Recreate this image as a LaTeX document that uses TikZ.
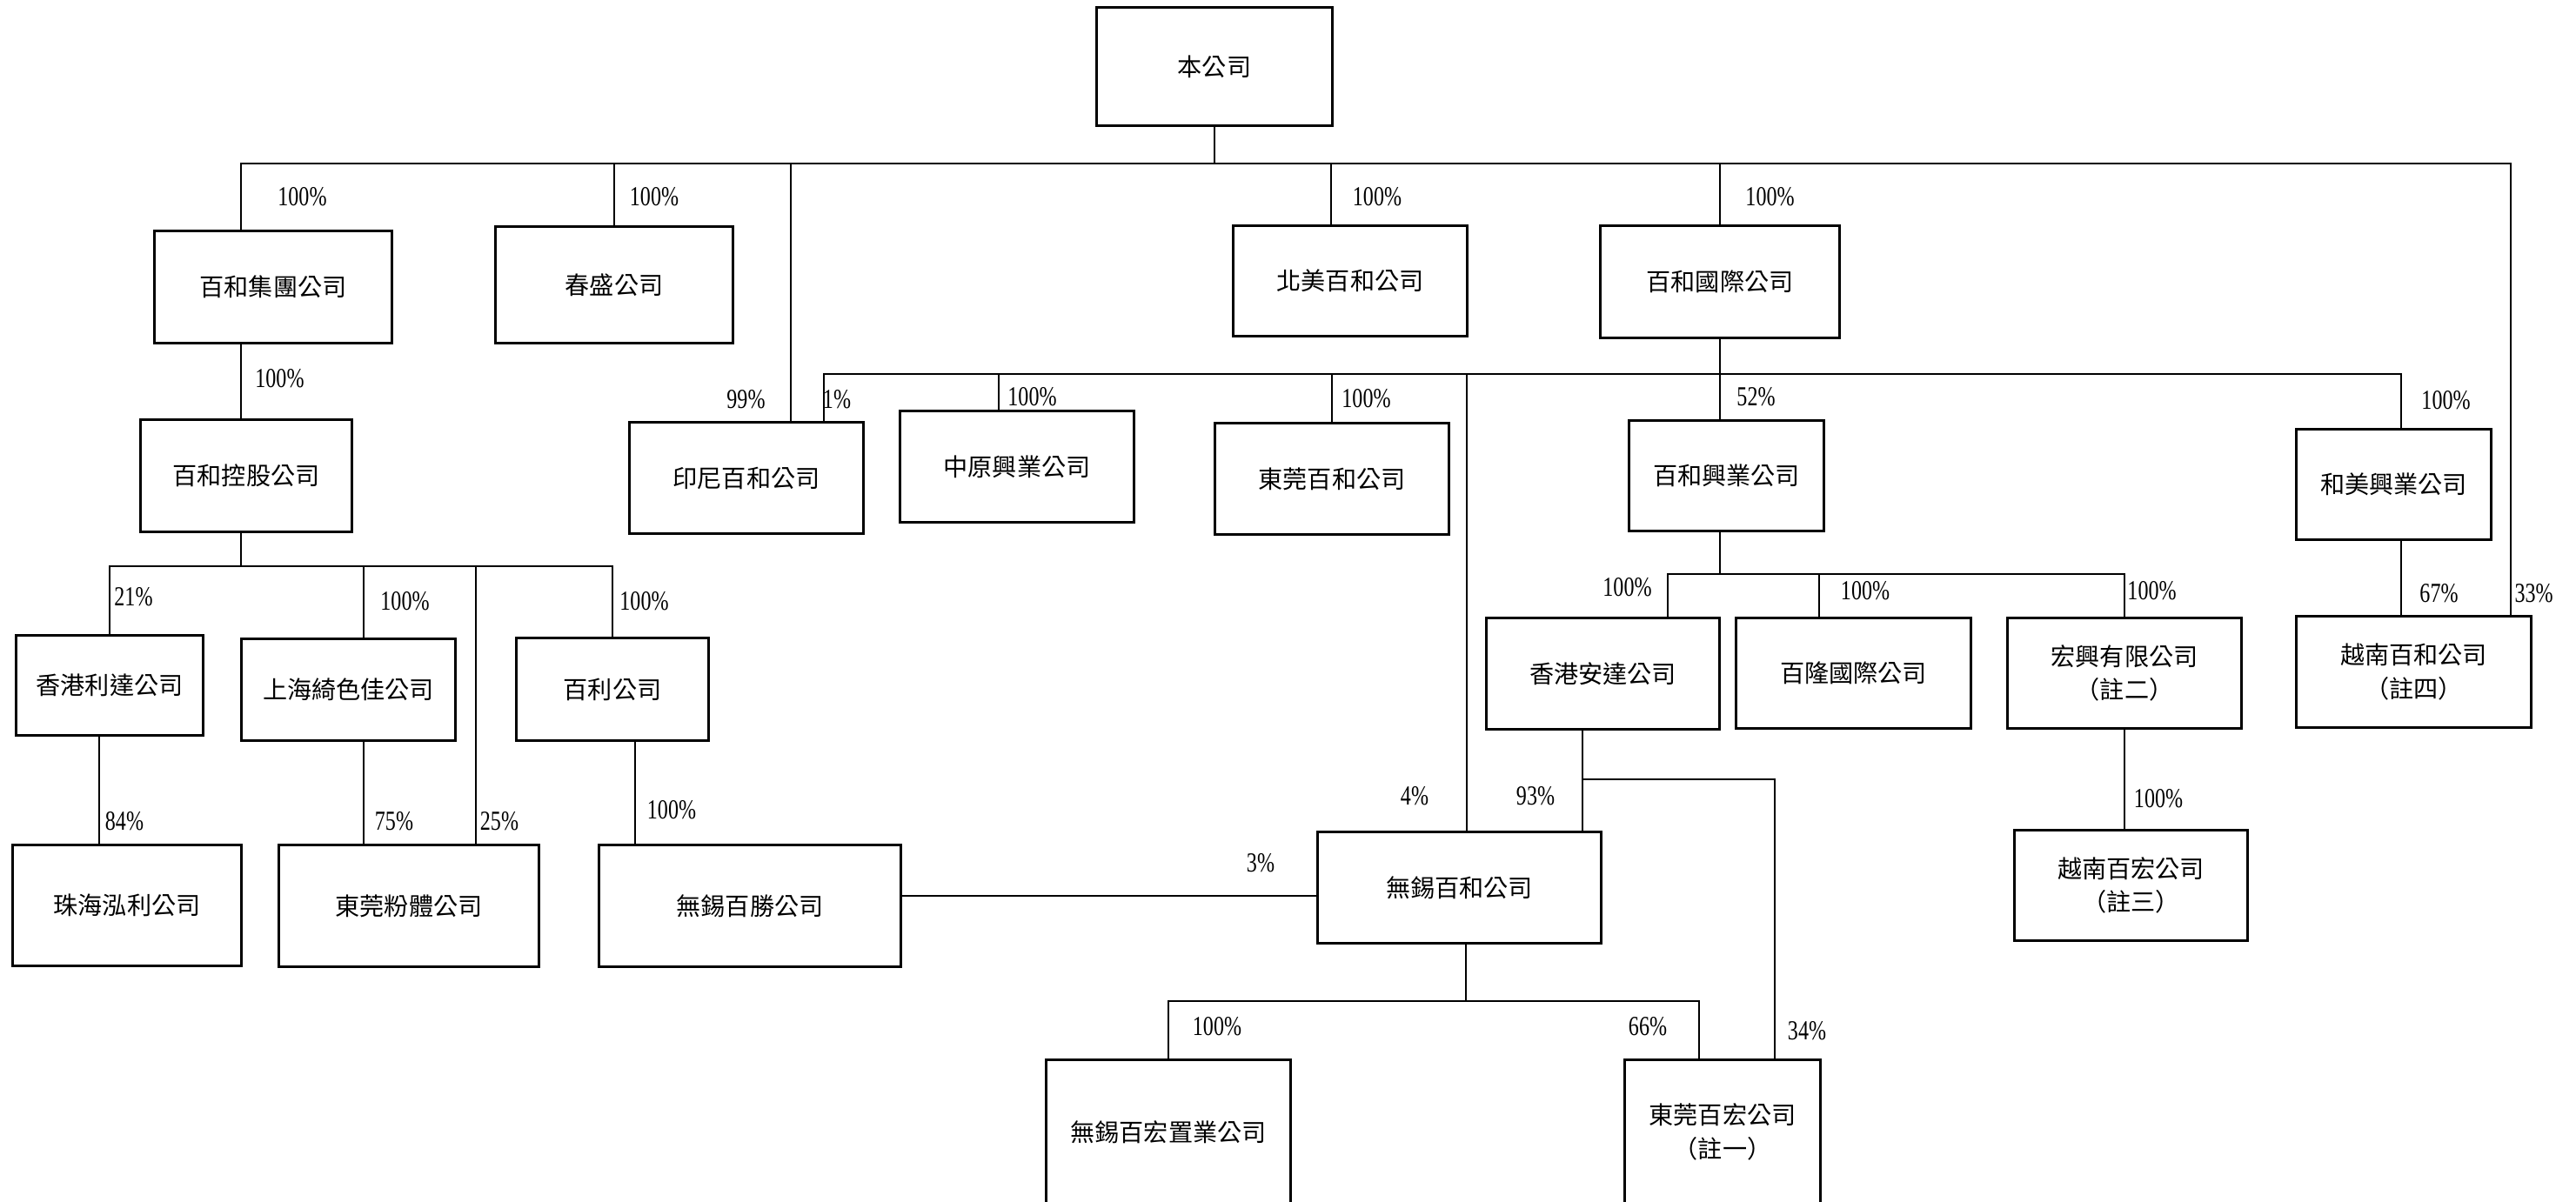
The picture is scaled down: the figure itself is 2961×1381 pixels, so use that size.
\documentclass[tikz,border=0pt]{standalone}
\usepackage{fontspec}
\usepackage{tikz}
\newfontfamily\cjk{Noto Sans CJK TC}
\newfontfamily\pctfont[FakeStretch=0.76]{Liberation Serif}

\tikzset{
  box/.style={draw, line width=0.85pt, inner sep=0pt, outer sep=0pt, align=center,
    font=\cjk\fontsize{8}{11}\selectfont},
  pct/.style={inner sep=0pt, font=\pctfont\fontsize{9}{10}\selectfont},
  link/.style={line width=0.55pt},
}

\begin{document}
\begin{tikzpicture}[x=0.01cm, y=-0.01cm]
\useasboundingbox (0,0) rectangle (2961,1381);

% companies
\node[box, minimum width=2.70cm, minimum height=1.35cm] (top) at (1396,76.5) {本公司};
\node[box, minimum width=2.72cm, minimum height=1.28cm] (jituan) at (314,330) {百和集團公司};
\node[box, minimum width=2.72cm, minimum height=1.33cm] (chunsheng) at (706,327.5) {春盛公司};
\node[box, minimum width=2.68cm, minimum height=1.26cm] (beimei) at (1552,323) {北美百和公司};
\node[box, minimum width=2.74cm, minimum height=1.28cm] (guoji) at (1977,324) {百和國際公司};
\node[box, minimum width=2.42cm, minimum height=1.28cm] (konggu) at (283,547) {百和控股公司};
\node[box, minimum width=2.68cm, minimum height=1.27cm] (yinni) at (858,549.5) {印尼百和公司};
\node[box, minimum width=2.68cm, minimum height=1.27cm] (zhongyuan) at (1169,536.5) {中原興業公司};
\node[box, minimum width=2.68cm, minimum height=1.27cm] (dongguan) at (1531,550.5) {東莞百和公司};
\node[box, minimum width=2.23cm, minimum height=1.26cm] (xingye) at (1984.5,547) {百和興業公司};
\node[box, minimum width=2.23cm, minimum height=1.26cm] (hemei) at (2751.5,557) {和美興業公司};
\node[box, minimum width=2.14cm, minimum height=1.14cm] (lida) at (126,788) {香港利達公司};
\node[box, minimum width=2.45cm, minimum height=1.16cm] (qisejia) at (400.5,793) {上海綺色佳公司};
\node[box, minimum width=2.20cm, minimum height=1.17cm] (baili) at (704,792.5) {百利公司};
\node[box, minimum width=2.67cm, minimum height=1.27cm] (anda) at (1842.5,774.5) {香港安達公司};
\node[box, minimum width=2.69cm, minimum height=1.26cm] (bailong) at (2130.5,774) {百隆國際公司};
\node[box, minimum width=2.68cm, minimum height=1.26cm] (hongxing) at (2442,774) {宏興有限公司\\（註二）};
\node[box, minimum width=2.69cm, minimum height=1.27cm] (vnbaihe) at (2774.5,772.5) {越南百和公司\\（註四）};
\node[box, minimum width=2.62cm, minimum height=1.38cm] (zhuhai) at (146,1041) {珠海泓利公司};
\node[box, minimum width=2.98cm, minimum height=1.39cm] (fenti) at (470,1041.5) {東莞粉體公司};
\node[box, minimum width=3.46cm, minimum height=1.39cm] (baisheng) at (862,1041.5) {無錫百勝公司};
\node[box, minimum width=3.25cm, minimum height=1.27cm] (wuxi) at (1677.5,1020.5) {無錫百和公司};
\node[box, minimum width=2.67cm, minimum height=1.26cm] (vnbaihong) at (2449.5,1018) {越南百宏公司\\（註三）};
\node[box, minimum width=2.80cm, minimum height=1.65cm] (zhiye) at (1343,1301.5) {無錫百宏置業公司};
\node[box, minimum width=2.24cm, minimum height=1.65cm] (dgbaihong) at (1980,1301.5) {東莞百宏公司\\（註一）};

% attach points
\coordinate (busA) at (1396,188);
\coordinate (busB) at (1977,430);
\coordinate (busC) at (277,651);
\coordinate (busD) at (1685,1151);
\coordinate (busE) at (1977,660);
\coordinate (jt) at (277,266);
\coordinate (bm) at (1530,260);
\coordinate (yn99) at (909,486);
\coordinate (yn1) at (947,486);
\coordinate (zy) at (1148,473);
\coordinate (hm) at (2760,494);
\coordinate (vn33) at (2886,709);
\coordinate (wx4) at (1686,957);
\coordinate (qs) at (418,735);
\coordinate (ft25) at (547,972);
\coordinate (zh) at (114,972);
\coordinate (bs) at (730,972);
\coordinate (w3) at (1515,1030);
\coordinate (ad) at (1917,711);
\coordinate (bl) at (2091,711);
\coordinate (ad93) at (1819,957);
\coordinate (ab) at (1819,896);
\coordinate (dh34) at (2040,1219);
\coordinate (dh66) at (1953,1219);

% first level
\draw[link] (top.south) -- (busA);
\draw[link] (jt) |- (vn33 |- busA) -- (vn33);
\draw[link] (chunsheng.north) -- (chunsheng.north |- busA);
\draw[link] (yn99) -- (yn99 |- busA);
\draw[link] (bm) -- (bm |- busA);
\draw[link] (guoji.north) -- (guoji.north |- busA);

% 百和國際
\draw[link] (guoji.south) -- (guoji.south |- xingye.north);
\draw[link] (yn1) -- (yn1 |- busB) -| (hm);
\draw[link] (zy) -- (zy |- busB);
\draw[link] (dongguan.north) -- (dongguan.north |- busB);
\draw[link] (wx4) -- (wx4 |- busB);
\draw[link] (hm |- hemei.south) -- (hm |- vnbaihe.north);

% 百和集團
\draw[link] (jt |- jituan.south) -- (jt |- konggu.north);
\draw[link] (konggu.south -| busC) -- (busC);
\draw[link] (lida.north) |- (busC) -| (baili.north);
\draw[link] (qs) -- (qs |- busC);
\draw[link] (ft25) -- (ft25 |- busC);
\draw[link] (zh |- lida.south) -- (zh);
\draw[link] (qs |- qisejia.south) -- (qs |- fenti.north);
\draw[link] (bs |- baili.south) -- (bs);
\draw[link] (w3 -| baisheng.east) -- (w3);

% 百和興業
\draw[link] (xingye.south -| busE) -- (busE);
\draw[link] (ad) |- (busE) -| (hongxing.north);
\draw[link] (bl) -- (bl |- busE);
\draw[link] (hongxing.south) -- (hongxing.south |- vnbaihong.north);
\draw[link] (ad93 |- anda.south) -- (ad93);
\draw[link] (ab) -| (dh34);

% 無錫百和
\draw[link] (wuxi.south -| busD) -- (busD);
\draw[link] (zhiye.north) |- (busD) -| (dh66);

% percentages
\node[pct] (pJituan) at (347.5,226) {100\%};
\node[pct] (pChunsheng) at (752,226) {100\%};
\node[pct] (pBeimei) at (1583,226) {100\%};
\node[pct] (pGuoji) at (2034.5,226) {100\%};
\node[pct] (pKonggu) at (321.5,435) {100\%};
\node[pct] (pYinni99) at (857.5,459) {99\%};
\node[pct] (pYinni1) at (962,459) {1\%};
\node[pct] (pZhongyuan) at (1186.5,456) {100\%};
\node[pct] (pDongguan) at (1570.5,458) {100\%};
\node[pct] (pXingye) at (2018.5,456) {52\%};
\node[pct] (pHemei) at (2811.5,460) {100\%};
\node[pct] (pLida) at (153.5,686) {21\%};
\node[pct] (pQisejia) at (465.5,691) {100\%};
\node[pct] (pBaili) at (740.5,691) {100\%};
\node[pct] (pAnda) at (1870.5,675) {100\%};
\node[pct] (pBailong) at (2144,679) {100\%};
\node[pct] (pHongxing) at (2473.5,679) {100\%};
\node[pct] (pVn67) at (2803.5,682) {67\%};
\node[pct] (pVn33) at (2912.5,682) {33\%};
\node[pct] (pZhuhai) at (143,944) {84\%};
\node[pct] (pFenti75) at (453,944) {75\%};
\node[pct] (pFenti25) at (574,944) {25\%};
\node[pct] (pBaisheng) at (772,931) {100\%};
\node[pct] (pWuxi4) at (1626,915) {4\%};
\node[pct] (pWuxi93) at (1765,915) {93\%};
\node[pct] (pWuxi3) at (1449,992) {3\%};
\node[pct] (pVnbaihong) at (2481,918) {100\%};
\node[pct] (pZhiye) at (1399,1180) {100\%};
\node[pct] (pDg66) at (1894,1180) {66\%};
\node[pct] (pDg34) at (2077,1185) {34\%};
\end{tikzpicture}
\end{document}
